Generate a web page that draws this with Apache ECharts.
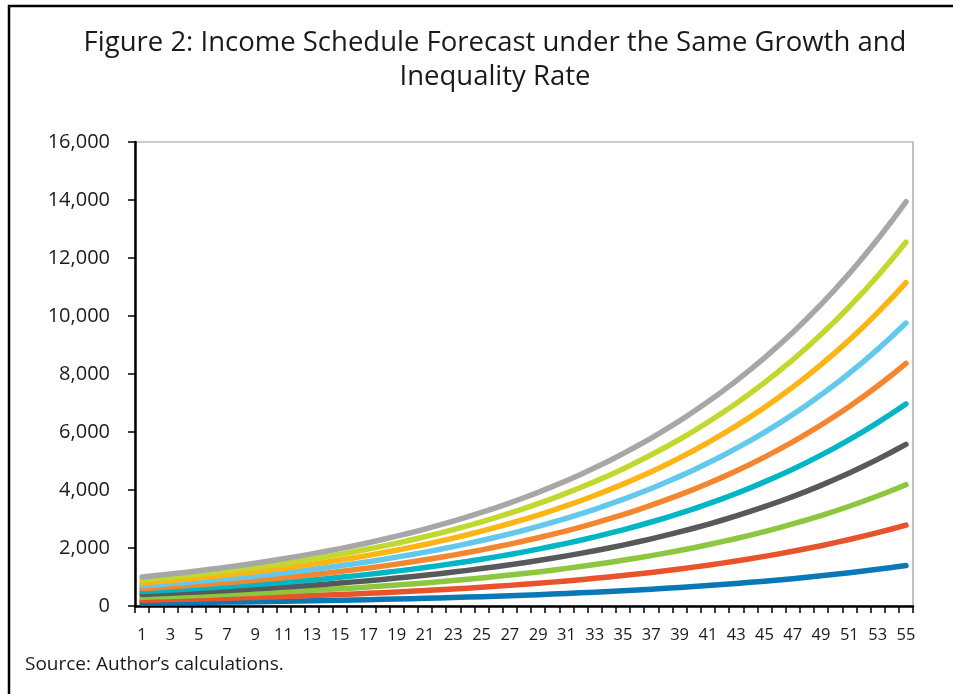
<!DOCTYPE html>
<html>
<head>
<meta charset="utf-8">
<script src="https://cdn.jsdelivr.net/npm/echarts@6/dist/echarts.min.js"></script>
<style>
html,body{margin:0;padding:0;background:#fff;}
#chart{width:958px;height:694px;}
</style>
</head>
<body>
<div id="chart"></div>
<script>
const titleText = "Figure 2: Income Schedule Forecast under the Same Growth and\nInequality Rate";
const sourceText = "Source: Author\u2019s calculations.";
const categories = ["1","2","3","4","5","6","7","8","9","10","11","12","13","14","15","16","17","18","19","20","21","22","23","24","25","26","27","28","29","30","31","32","33","34","35","36","37","38","39","40","41","42","43","44","45","46","47","48","49","50","51","52","53","54","55"];
const yTicks = [0, 2000, 4000, 6000, 8000, 10000, 12000, 14000, 16000];

const s1 = [100,105,110,116,122,128,134,141,148,155,163,171,180,189,198,208,218,229,241,253,265,279,293,307,323,339,356,373,392,412,432,454,476,500,525,552,579,608,639,670,704,739,776,815,856,899,943,991,1040,1092,1147,1204,1264,1327,1394];
const s2 = [200,210,221,232,243,255,268,281,295,310,326,342,359,377,396,416,437,458,481,505,531,557,585,614,645,677,711,747,784,823,864,908,953,1001,1051,1103,1158,1216,1277,1341,1408,1478,1552,1630,1711,1797,1887,1981,2080,2184,2293,2408,2529,2655,2788];
const s3 = [300,315,331,347,365,383,402,422,443,465,489,513,539,566,594,624,655,688,722,758,796,836,878,921,968,1016,1067,1120,1176,1235,1297,1361,1429,1501,1576,1655,1738,1824,1916,2011,2112,2218,2328,2445,2567,2696,2830,2972,3120,3276,3440,3612,3793,3982,4182];
const s4 = [400,420,441,463,486,511,536,563,591,621,652,684,718,754,792,832,873,917,963,1011,1061,1114,1170,1229,1290,1355,1422,1493,1568,1646,1729,1815,1906,2001,2101,2206,2317,2433,2554,2682,2816,2957,3105,3260,3423,3594,3774,3962,4161,4369,4587,4816,5057,5310,5575];
const s5 = [500,525,551,579,608,638,670,704,739,776,814,855,898,943,990,1039,1091,1146,1203,1263,1327,1393,1463,1536,1613,1693,1778,1867,1960,2058,2161,2269,2382,2502,2627,2758,2896,3041,3193,3352,3520,3696,3881,4075,4279,4493,4717,4953,5201,5461,5734,6020,6321,6637,6969];
const s6 = [600,630,662,695,729,766,804,844,886,931,977,1026,1078,1131,1188,1247,1310,1375,1444,1516,1592,1672,1755,1843,1935,2032,2133,2240,2352,2470,2593,2723,2859,3002,3152,3310,3475,3649,3831,4023,4224,4435,4657,4890,5134,5391,5661,5944,6241,6553,6880,7224,7586,7965,8363];
const s7 = [700,735,772,810,851,893,938,985,1034,1086,1140,1197,1257,1320,1386,1455,1528,1604,1685,1769,1857,1950,2048,2150,2258,2370,2489,2613,2744,2881,3025,3177,3335,3502,3677,3861,4054,4257,4470,4693,4928,5174,5433,5705,5990,6290,6604,6934,7281,7645,8027,8429,8850,9292,9757];
const s8 = [800,840,882,926,972,1021,1072,1126,1182,1241,1303,1368,1437,1508,1584,1663,1746,1834,1925,2022,2123,2229,2340,2457,2580,2709,2845,2987,3136,3293,3458,3630,3812,4003,4203,4413,4633,4865,5108,5364,5632,5914,6209,6520,6846,7188,7547,7925,8321,8737,9174,9633,10114,10620,11151];
const s9 = [900,945,992,1042,1094,1149,1206,1266,1330,1396,1466,1539,1616,1697,1782,1871,1965,2063,2166,2274,2388,2507,2633,2764,2903,3048,3200,3360,3528,3704,3890,4084,4288,4503,4728,4964,5213,5473,5747,6034,6336,6653,6985,7335,7701,8087,8491,8915,9361,9829,10321,10837,11379,11947,12545];
const s10 = [1000,1050,1103,1158,1216,1276,1340,1407,1477,1551,1629,1710,1796,1886,1980,2079,2183,2292,2407,2527,2653,2786,2925,3072,3225,3386,3556,3733,3920,4116,4322,4538,4765,5003,5253,5516,5792,6081,6386,6705,7040,7392,7762,8150,8557,8985,9434,9906,10401,10921,11467,12041,12643,13275,13939];

const seriesData = [s1, s2, s3, s4, s5, s6, s7, s8, s9, s10];
const seriesNames = ["Group 1","Group 2","Group 3","Group 4","Group 5","Group 6","Group 7","Group 8","Group 9","Group 10"];
const colors = ["#0b78b6","#e9532c","#8dc63f","#58595b","#00b6c5","#f4862f","#62c9ec","#fdb515","#c3d82f","#a7a7a7"];

const FONT = "'Open Sans', Lato, sans-serif";

const chart = echarts.init(document.getElementById('chart'), null, {renderer: 'canvas'});
chart.setOption({
  animation: false,
  backgroundColor: '#ffffff',
  title: {
    text: titleText,
    left: 490,
    textAlign: 'center',
    top: 21,
    textStyle: {fontFamily: FONT, fontSize: 27.5, fontWeight: 'normal', color: '#1a1a1a', lineHeight: 34}
  },
  graphic: [
    {type: 'polyline', shape: {points: [[9, 694], [9, 6], [953, 6]]}, style: {stroke: '#000', lineWidth: 2.5, fill: null}},
    {type: 'text', left: 25, top: 655, style: {text: sourceText, font: "19px " + FONT, fill: '#1a1a1a'}}
  ],
  grid: {left: 135, right: 45, top: 142, bottom: 88, show: true, borderColor: '#9a9a9a', borderWidth: 1.2, backgroundColor: 'transparent'},
  xAxis: {
    type: 'category',
    data: categories,
    boundaryGap: true,
    axisLine: {lineStyle: {color: '#000', width: 2.5}},
    axisTick: {show: true, interval: 0, length: 7, lineStyle: {color: '#000', width: 1.5}},
    axisLabel: {interval: 1, margin: 21, fontFamily: FONT, fontSize: 16.5, color: '#1a1a1a'},
    splitLine: {show: false}
  },
  yAxis: {
    type: 'value',
    min: yTicks[0],
    max: yTicks[yTicks.length - 1],
    interval: 2000,
    axisLine: {show: true, lineStyle: {color: '#000', width: 2.5}},
    axisTick: {show: true, length: 7, lineStyle: {color: '#000', width: 1.5}},
    axisLabel: {margin: 25, fontFamily: FONT, fontSize: 20, color: '#1a1a1a',
      formatter: v => v.toLocaleString('en-US')},
    splitLine: {show: false}
  },
  series: seriesData.map((d, i) => ({
    name: seriesNames[i],
    type: 'line',
    data: d,
    showSymbol: false,
    symbol: 'none',
    lineStyle: {color: colors[i], width: 5.5, cap: 'round', join: 'round'},
    itemStyle: {color: colors[i]},
    z: 2 + i
  }))
});
</script>
</body>
</html>
